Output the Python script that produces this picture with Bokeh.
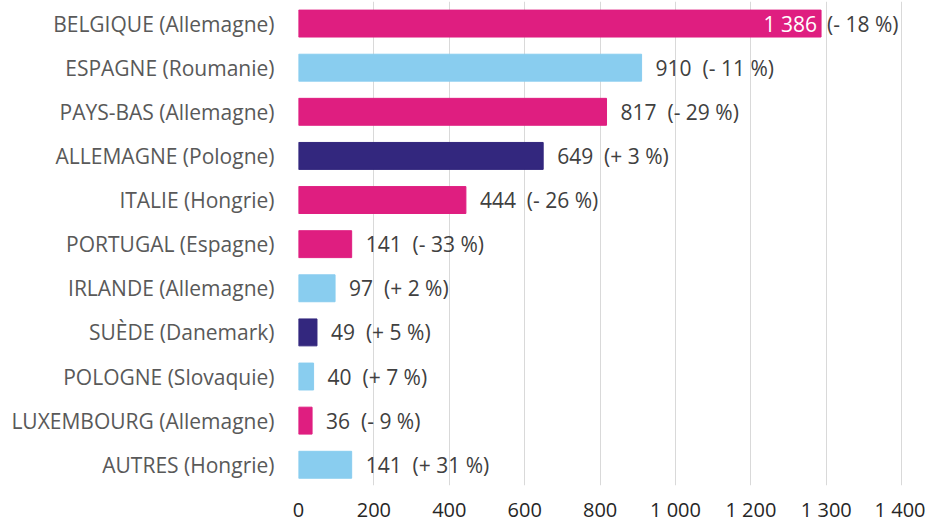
from bokeh.plotting import figure
from bokeh.models import ColumnDataSource, Range1d, FixedTicker
from bokeh.core.properties import value
from bokeh.embed import file_html
from bokeh.resources import INLINE

# ---- data ----
categories = ["BELGIQUE (Allemagne)", "ESPAGNE (Roumanie)", "PAYS-BAS (Allemagne)",
              "ALLEMAGNE (Pologne)", "ITALIE (Hongrie)", "PORTUGAL (Espagne)",
              "IRLANDE (Allemagne)", "SUÈDE (Danemark)", "POLOGNE (Slovaquie)",
              "LUXEMBOURG (Allemagne)", "AUTRES (Hongrie)"]
values = [1386, 910, 817, 649, 444, 141, 97, 49, 40, 36, 141]
changes = [-18, -11, -29, 3, -26, -33, 2, 5, 7, -9, 31]
x_ticks = [0, 200, 400, 600, 800, 1000, 1200, 1400, 1600]
x_tick_labels = ["0", "200", "400", "600", "800", "1 000", "1 200", "1 300", "1 400"]

# ---- styles ----
PINK, SKY, NAVY = "#DF1E80", "#89CDEF", "#33277E"
bar_colors = [PINK, SKY, PINK, NAVY, PINK, PINK, SKY, NAVY, SKY, PINK, SKY]
FONT = "Open Sans"
NB = "\u00a0"

n = len(categories)
ys = [n - 1 - i for i in range(n)]

def fmt(v):
    return f"{v:,}".replace(",", NB)

def fmt_chg(c):
    sign = "+" if c >= 0 else "-"
    return f"({sign}{NB}{abs(c)}{NB}%)"

inside = [v >= 1200 for v in values]

src = ColumnDataSource(dict(y=ys, v=values, color=bar_colors))
out_src = ColumnDataSource(dict(
    y=[y for y, i in zip(ys, inside) if not i],
    v=[v for v, i in zip(values, inside) if not i],
    t=[fmt(v) + NB + NB + fmt_chg(c) for v, c, i in zip(values, changes, inside) if not i]))
in_src = ColumnDataSource(dict(
    y=[y for y, i in zip(ys, inside) if i],
    v=[v for v, i in zip(values, inside) if i],
    t=[fmt(v) for v, i in zip(values, inside) if i],
    t2=[fmt_chg(c) for c, i in zip(changes, inside) if i]))

p = figure(width=925, height=525, output_backend="svg", toolbar_location=None,
           x_range=Range1d(0, 1610), y_range=Range1d(-0.47, 10.5),
           min_border_left=298, min_border_right=20, min_border_top=1,
           min_border_bottom=37)
p.outline_line_color = None
p.background_fill_color = "white"
p.border_fill_color = "white"

p.hbar(y="y", left=0, right="v", height=0.61, color="color", source=src)

p.text(x="v", y="y", text="t", source=out_src, x_offset=14, text_align="left",
       text_baseline="middle", text_font=value(FONT), text_font_size="21px",
       text_color="#404040")
p.text(x="v", y="y", text="t", source=in_src, x_offset=-4, text_align="right",
       text_baseline="middle", text_font=value(FONT), text_font_size="21px",
       text_color="white")
p.text(x="v", y="y", text="t2", source=in_src, x_offset=6, text_align="left",
       text_baseline="middle", text_font=value(FONT), text_font_size="21px",
       text_color="#404040")

# x axis
p.xaxis.ticker = FixedTicker(ticks=x_ticks)
p.xaxis.major_label_overrides = {t: l for t, l in zip(x_ticks, x_tick_labels)}
p.xaxis.axis_line_color = None
p.xaxis.major_tick_line_color = None
p.xaxis.minor_tick_line_color = None
p.xaxis.major_label_standoff = 4
p.xaxis.major_label_text_font = FONT
p.xaxis.major_label_text_font_size = "20px"
p.xaxis.major_label_text_color = "#262626"

# y axis
p.yaxis.ticker = FixedTicker(ticks=ys)
p.yaxis.major_label_overrides = {y: c for y, c in zip(ys, categories)}
p.yaxis.axis_line_color = None
p.yaxis.major_tick_line_color = None
p.yaxis.minor_tick_line_color = None
p.yaxis.major_label_standoff = 18
p.yaxis.major_label_text_font = FONT
p.yaxis.major_label_text_font_size = "21px"
p.yaxis.major_label_text_color = "#595959"

p.xgrid.grid_line_color = "#D9D9D9"
p.xgrid.grid_line_width = 1
p.ygrid.grid_line_color = None

open("out.html", "w").write(file_html(p, INLINE))
